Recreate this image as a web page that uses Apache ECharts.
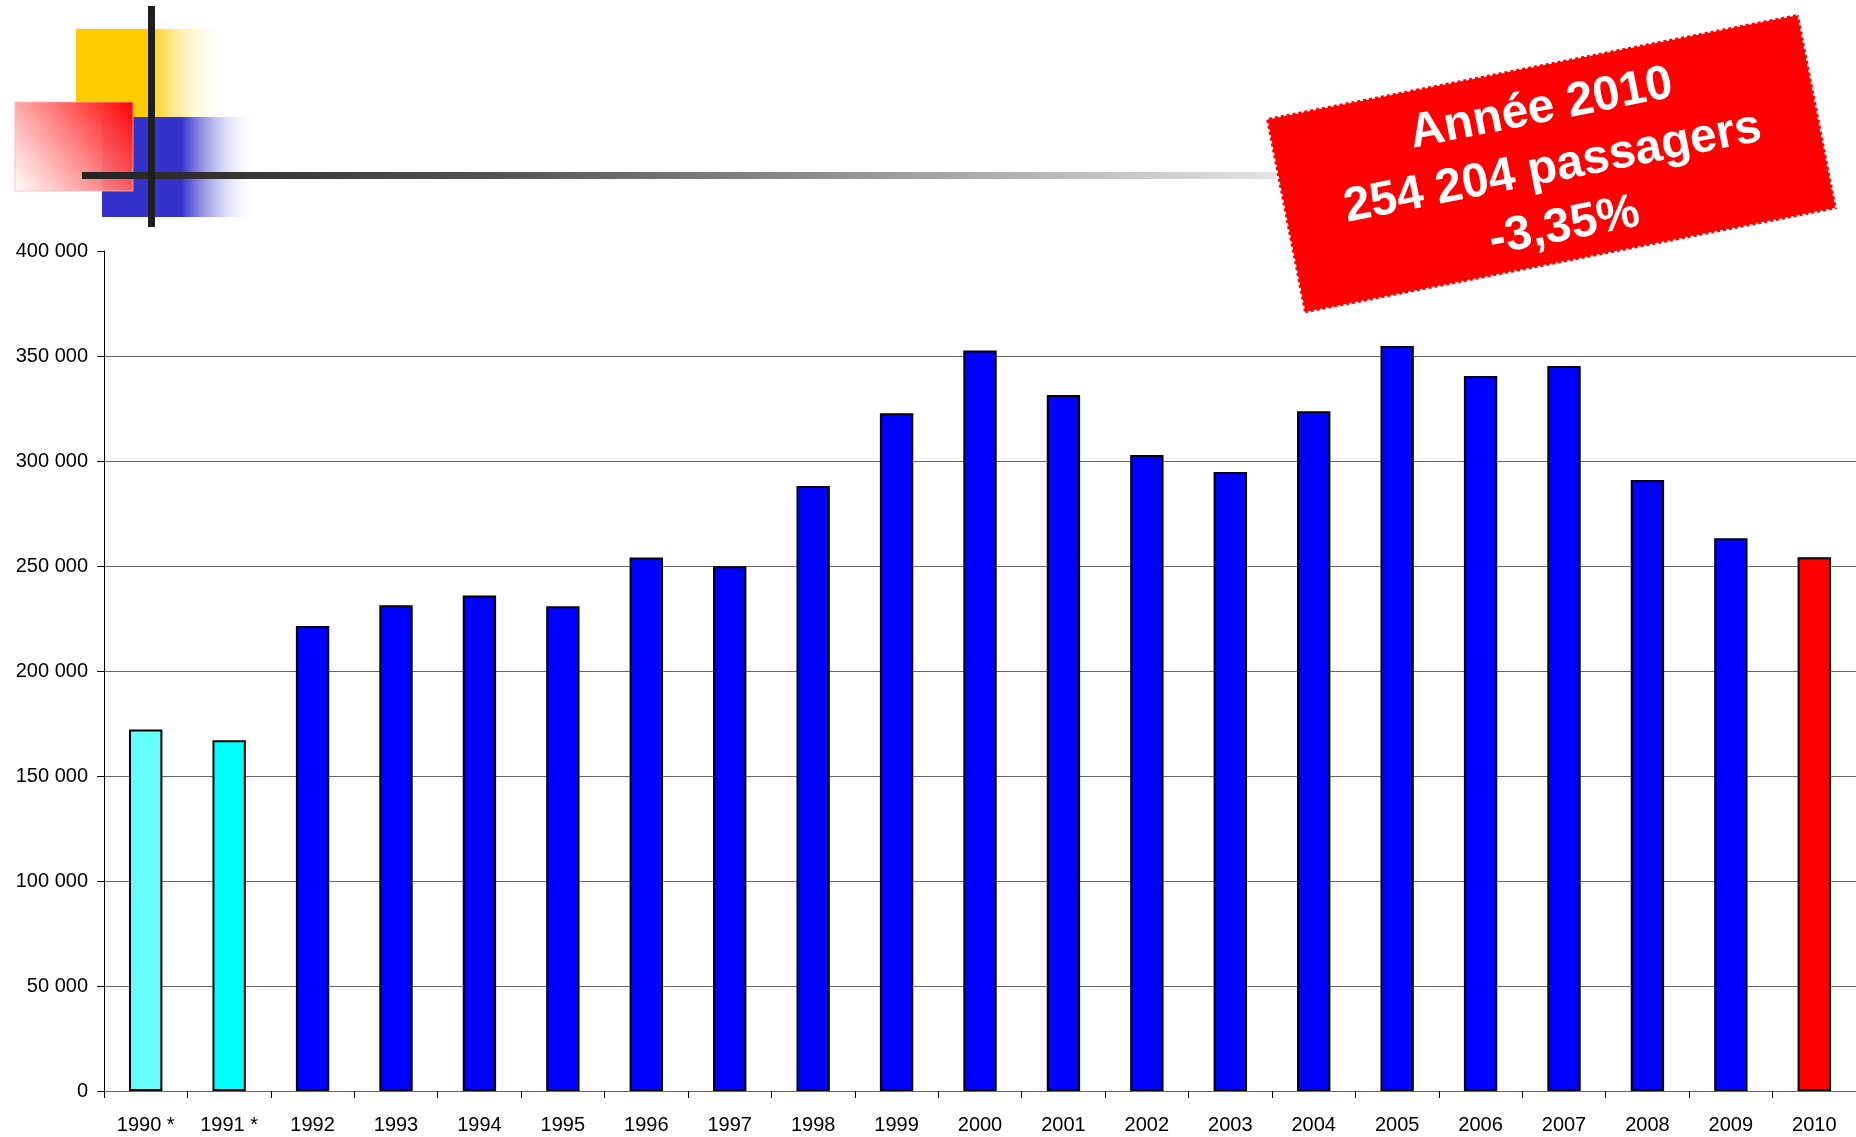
<!DOCTYPE html>
<html>
<head>
<meta charset="utf-8">
<script src="https://cdn.jsdelivr.net/npm/echarts@6/dist/echarts.min.js"></script>
<style>
  html, body { margin: 0; padding: 0; background: #fff; }
  #chart { width: 1856px; height: 1137px; }
</style>
</head>
<body>
<div id="chart"></div>
<script>
// passagers par année
const years = ['1990 *', '1991 *', '1992', '1993', '1994', '1995', '1996', '1997', '1998', '1999', '2000',
  '2001', '2002', '2003', '2004', '2005', '2006', '2007', '2008', '2009', '2010']
const passengers = [172100, 167000, 221400, 231300, 235900, 230800, 254100, 249900, 288100, 322700, 352600,
  331400, 302900, 294800, 323700, 354800, 340500, 345200, 291000, 263200, 254204]
const yTicks = [0, 50000, 100000, 150000, 200000, 250000, 300000, 350000, 400000]
const stampLines = ['Année 2010', '254 204 passagers', '-3,35%']

const chart = echarts.init(document.getElementById('chart'))

const fmt = (v) => String(v).replace(/\B(?=(\d{3})+(?!\d))/g, ' ')

const barColor = (p) => {
  if (p.dataIndex === 0) return '#66FFFF'
  if (p.dataIndex === 1) return '#00FFFF'
  if (p.dataIndex === years.length - 1) return '#FF0000'
  return '#0000FF'
}

const option = {
  animation: false,
  grid: { left: 104, right: 0, top: 251, bottom: 46 },
  xAxis: {
    type: 'category',
    data: years,
    axisLine: { lineStyle: { color: '#666', width: 1 } },
    axisTick: { show: true, length: 7, lineStyle: { color: '#000' } },
    axisLabel: { color: '#000', fontFamily: 'Liberation Sans', fontSize: 20, margin: 24 }
  },
  yAxis: {
    type: 'value',
    min: yTicks[0],
    max: yTicks[yTicks.length - 1],
    interval: yTicks[1] - yTicks[0],
    axisLine: { show: true, lineStyle: { color: '#000', width: 1 } },
    axisTick: { show: true, length: 7, lineStyle: { color: '#000' } },
    axisLabel: { color: '#000', fontFamily: 'Liberation Sans', fontSize: 20, margin: 16, formatter: fmt },
    splitLine: {
      show: true,
      lineStyle: {
        width: 1,
        color: yTicks.map((t, i) => i === yTicks.length - 1 ? 'rgba(0,0,0,0)' : '#666')
      }
    }
  },
  series: [{
    type: 'bar',
    data: passengers,
    barWidth: '40%',
    itemStyle: { color: barColor, borderColor: '#000', borderWidth: 2 }
  }],
  graphic: [
    // logo en haut à gauche
    {
      type: 'rect', shape: { x: 76, y: 29, width: 150, height: 88 },
      style: { fill: new echarts.graphic.LinearGradient(0, 0, 1, 0, [
        { offset: 0, color: '#FFCC00' }, { offset: 0.48, color: '#FFCC00' },
        { offset: 1, color: 'rgba(255,255,255,0)' }]) }
    },
    {
      type: 'rect', shape: { x: 102, y: 117, width: 156, height: 100 },
      style: { fill: new echarts.graphic.LinearGradient(0, 0, 1, 0, [
        { offset: 0, color: '#3333CC' }, { offset: 0.51, color: '#3333CC' },
        { offset: 1, color: 'rgba(255,255,255,0)' }]) }
    },
    {
      type: 'rect', shape: { x: 15, y: 102, width: 118, height: 89 },
      style: {
        fill: new echarts.graphic.LinearGradient(1, 0, 0, 1, [
          { offset: 0, color: 'rgba(255,0,0,1)' }, { offset: 1, color: 'rgba(255,255,255,0.9)' }]),
        stroke: 'rgba(255,180,180,0.8)', lineWidth: 1
      }
    },
    {
      type: 'rect', shape: { x: 82, y: 172, width: 1220, height: 7 },
      style: { fill: new echarts.graphic.LinearGradient(0, 0, 1, 0, [
        { offset: 0, color: '#222' }, { offset: 0.35, color: '#555' },
        { offset: 1, color: '#e8e8e8' }]) }
    },
    {
      type: 'rect', shape: { x: 148, y: 6, width: 7, height: 221 },
      style: { fill: '#1e1e1e' }
    },
    // encadré rouge
    {
      type: 'group',
      x: 1552, y: 164,
      rotation: 0.194,
      children: [
        {
          type: 'rect', shape: { x: -272, y: -100, width: 543, height: 199 },
          style: { fill: '#FF0000', stroke: '#fff', lineWidth: 3, lineDash: [3, 3] }
        },
        {
          type: 'text', x: 0, y: 4,
          style: {
            text: stampLines.join('\n'),
            fill: '#fff',
            font: 'bold 48px "Liberation Sans", Arial, sans-serif',
            textAlign: 'center', textVerticalAlign: 'middle',
            align: 'center', verticalAlign: 'middle',
            lineHeight: 60
          }
        }
      ]
    }
  ]
}

chart.setOption(option)
</script>
</body>
</html>
